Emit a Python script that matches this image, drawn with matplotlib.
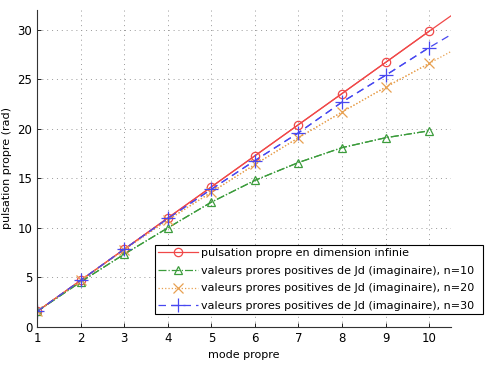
import matplotlib
matplotlib.use('Agg')
import matplotlib.pyplot as plt
import numpy as np

# mode propre (x) et valeurs
modes = [1, 2, 3, 4, 5, 6, 7, 8, 9, 10]
w_infini = [1.57, 4.71, 7.85, 11.0, 14.14, 17.28, 20.42, 23.56, 26.70, 29.85]
w_n10 = [1.57, 4.55, 7.35, 10.0, 12.6, 14.8, 16.6, 18.1, 19.1, 19.8]
w_n20 = [1.57, 4.7, 7.8, 10.8, 13.6, 16.4, 19.1, 21.7, 24.2, 26.6]
w_n30 = [1.57, 4.71, 7.85, 10.95, 13.9, 16.8, 19.6, 22.7, 25.4, 28.2]
# prolongement des courbes jusqu'au bord de l'axe
mode_fin = 10.5
w_infini_fin = 31.4
w_n20_fin = 27.8
w_n30_fin = 29.5

labels = ['pulsation propre en dimension infinie',
          'valeurs prores positives de Jd (imaginaire), n=10',
          'valeurs prores positives de Jd (imaginaire), n=20',
          'valeurs prores positives de Jd (imaginaire), n=30']

red = '#f04848'
green = '#3c9c3c'
orange = '#e8a050'
blue = '#4848f0'

plt.rcParams['font.family'] = ['DejaVu Sans']
fig = plt.figure(figsize=(4.95, 3.67), dpi=100)
ax = fig.add_axes([0.075, 0.109, 0.836, 0.864])

ms = 6
# lignes prolongées (sans marqueurs)
ax.plot(modes + [mode_fin], w_infini + [w_infini_fin], '-', color=red, lw=0.9)
ax.plot(modes + [mode_fin], w_n20 + [w_n20_fin], ':', color=orange, lw=0.9)
ax.plot(modes + [mode_fin], w_n30 + [w_n30_fin], '--', color=blue, lw=0.9, dashes=(6, 4))
ax.plot(modes, w_n10, '-.', color=green, lw=0.9)

# marqueurs + légende
h1, = ax.plot(modes, w_infini, '-', color=red, lw=0.9, marker='o', ms=ms, mfc='none', mew=0.9)
h2, = ax.plot(modes, w_n10, '-.', color=green, lw=0.9, marker='^', ms=ms, mfc='none', mew=0.9)
h3, = ax.plot(modes, w_n20, ':', color=orange, lw=0.9, marker='x', ms=ms + 1, mew=0.9)
h4, = ax.plot(modes, w_n30, '--', color=blue, lw=0.9, marker='+', ms=ms + 4, mew=0.9, dashes=(6, 4))

ax.set_xlim(1, mode_fin)
ax.set_ylim(0, 32)
ax.set_xticks(modes)
ax.set_yticks(np.arange(0, 31, 5))
ax.grid(True, linestyle=(0, (1, 4)), color='#999999', lw=0.7)
ax.tick_params(direction='in', labelsize=8.5, length=3, width=0.6)
for s in ['top', 'right']:
  ax.spines[s].set_visible(False)
for s in ['left', 'bottom']:
  ax.spines[s].set_linewidth(0.8)
  ax.spines[s].set_color('#333333')

ax.set_xlabel('mode propre', fontsize=8)
ax.set_ylabel('pulsation propre (rad)', fontsize=8)

leg = ax.legend([h1, h2, h3, h4], labels, loc='upper left',
  bbox_to_anchor=(155 / 495, (367 - 245) / 367, (483 - 155) / 495, 0),
  bbox_transform=fig.transFigure, mode='expand', fontsize=8,
  fancybox=False, framealpha=1, edgecolor='black', handlelength=3.6,
  borderpad=0.3, labelspacing=0.68, handletextpad=0.25, borderaxespad=0)
leg.get_frame().set_linewidth(0.8)

plt.savefig('out.png', dpi=100)
